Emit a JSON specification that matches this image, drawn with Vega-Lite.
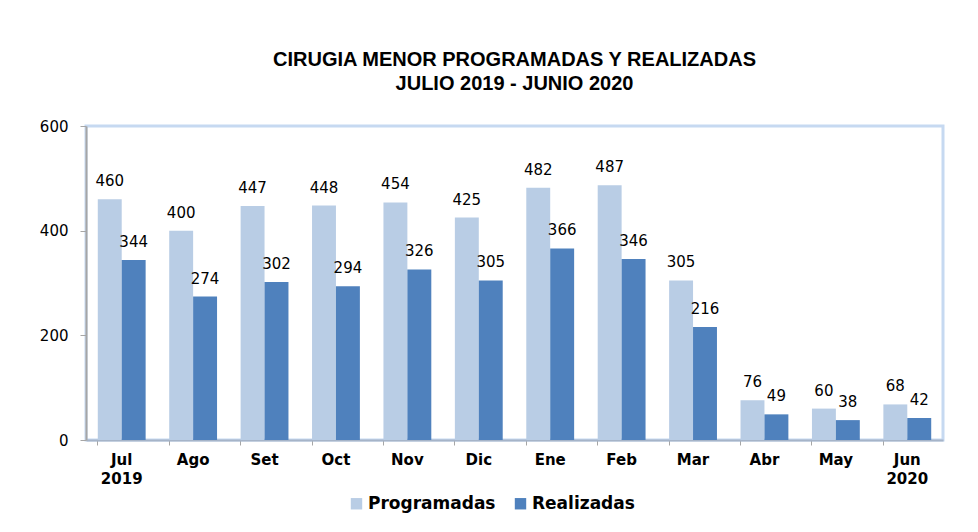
{
  "$schema": "https://vega.github.io/schema/vega-lite/v6.json",
  "width": 857,
  "height": 314,
  "autosize": {"type": "none"},
  "padding": {"left": 86, "top": 126, "right": 35, "bottom": 92},
  "background": "white",
  "title": {
    "text": ["CIRUGIA  MENOR  PROGRAMADAS  Y REALIZADAS", "JULIO  2019 - JUNIO  2020"],
    "font": "Liberation Sans",
    "fontSize": 20,
    "fontWeight": "bold",
    "color": "#000000",
    "anchor": "middle",
    "lineHeight": 24,
    "offset": 25
  },
  "data": {
    "values": [
      {"mes": "Jul 2019", "serie": "Programadas", "valor": 460},
      {"mes": "Jul 2019", "serie": "Realizadas", "valor": 344},
      {"mes": "Ago", "serie": "Programadas", "valor": 400},
      {"mes": "Ago", "serie": "Realizadas", "valor": 274},
      {"mes": "Set", "serie": "Programadas", "valor": 447},
      {"mes": "Set", "serie": "Realizadas", "valor": 302},
      {"mes": "Oct", "serie": "Programadas", "valor": 448},
      {"mes": "Oct", "serie": "Realizadas", "valor": 294},
      {"mes": "Nov", "serie": "Programadas", "valor": 454},
      {"mes": "Nov", "serie": "Realizadas", "valor": 326},
      {"mes": "Dic", "serie": "Programadas", "valor": 425},
      {"mes": "Dic", "serie": "Realizadas", "valor": 305},
      {"mes": "Ene", "serie": "Programadas", "valor": 482},
      {"mes": "Ene", "serie": "Realizadas", "valor": 366},
      {"mes": "Feb", "serie": "Programadas", "valor": 487},
      {"mes": "Feb", "serie": "Realizadas", "valor": 346},
      {"mes": "Mar", "serie": "Programadas", "valor": 305},
      {"mes": "Mar", "serie": "Realizadas", "valor": 216},
      {"mes": "Abr", "serie": "Programadas", "valor": 76},
      {"mes": "Abr", "serie": "Realizadas", "valor": 49},
      {"mes": "May", "serie": "Programadas", "valor": 60},
      {"mes": "May", "serie": "Realizadas", "valor": 38},
      {"mes": "Jun 2020", "serie": "Programadas", "valor": 68},
      {"mes": "Jun 2020", "serie": "Realizadas", "valor": 42}
    ]
  },
  "encoding": {
    "x": {
      "field": "mes",
      "type": "nominal",
      "sort": null,
      "scale": {"paddingInner": 0.33, "paddingOuter": 0.165},
      "axis": {
        "title": null,
        "labelAngle": 0,
        "labelExpr": "split(datum.label, ' ')",
        "labelFont": "DejaVu Sans",
        "labelFontSize": 15,
        "labelFontWeight": "bold",
        "labelColor": "#000000",
        "labelPadding": 7,
        "labelLineHeight": 19,
        "domainColor": "#A6B4C8",
        "domainWidth": 2,
        "tickColor": "#A6A6A6",
        "tickSize": 5,
        "bandPosition": 0
      }
    },
    "xOffset": {"field": "serie", "type": "nominal"},
    "y": {
      "field": "valor",
      "type": "quantitative",
      "scale": {"domain": [0, 600]},
      "axis": {
        "title": null,
        "values": [0, 200, 400, 600],
        "grid": false,
        "labelFont": "DejaVu Sans",
        "labelFontSize": 15,
        "labelColor": "#000000",
        "labelPadding": 12,
        "domainColor": "#A6A6A6",
        "domainWidth": 2,
        "tickColor": "#A6A6A6",
        "tickSize": 6
      }
    }
  },
  "layer": [
    {
      "mark": {"type": "bar"},
      "encoding": {
        "color": {
          "field": "serie",
          "type": "nominal",
          "scale": {"domain": ["Programadas", "Realizadas"], "range": ["#B9CDE5", "#4F81BD"]},
          "legend": {
            "title": null,
            "orient": "none",
            "legendX": 262,
            "legendY": 369,
            "direction": "horizontal",
            "symbolType": "square",
            "symbolSize": 130,
            "symbolStrokeWidth": 0,
            "labelFont": "DejaVu Sans",
            "labelFontSize": 17,
            "labelFontWeight": "bold",
            "labelColor": "#000000",
            "labelOffset": 3,
            "columnPadding": 16
          }
        }
      }
    },
    {
      "mark": {"type": "text", "baseline": "bottom", "dy": -10, "font": "DejaVu Sans", "fontSize": 15, "color": "#000000"},
      "encoding": {
        "text": {"field": "valor", "type": "quantitative"}
      }
    }
  ],
  "config": {
    "view": {"stroke": "#C6D9F1", "strokeWidth": 3}
  }
}
